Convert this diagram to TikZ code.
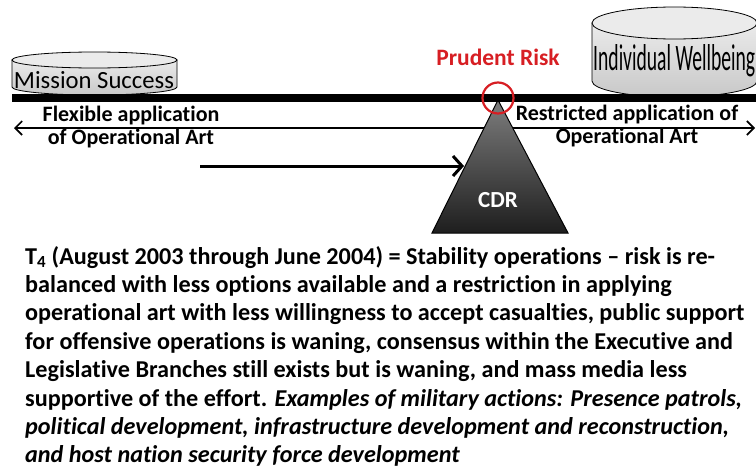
\documentclass[tikz,border=0pt]{standalone}
\usepackage{fontspec}
\setmainfont{Carlito}[Ligatures=NoCommon]
\usetikzlibrary{arrows.meta}
\definecolor{riskred}{RGB}{215,30,35}
\definecolor{cylbody}{RGB}{200,200,200}
\definecolor{cyltop}{RGB}{235,235,235}
\tikzset{
  lbl/.style={font=\bfseries\fontsize{22}{24}\selectfont, inner sep=0pt},
  bodyline/.style={anchor=base west, inner sep=0pt, font=\bfseries\fontsize{24.2}{28}\selectfont},
  cylfill/.style={draw=black, line width=0.8pt, top color=cyltop, bottom color=cylbody},
}
\begin{document}
\begin{tikzpicture}[x=1pt,y=-1pt]
\useasboundingbox (0,0) rectangle (756,471);
% double arrow
\draw[line width=1.6pt, {Straight Barb[length=7pt,width=14pt]}-{Straight Barb[length=7pt,width=14pt]}] (14,128) coordinate (dl) -- (755,128) coordinate (dr);
% Mission Success cylinder
\path[cylfill] (12,60) -- (12,87) arc[start angle=180,end angle=360,x radius=82.5pt,y radius=8pt] -- (177,60) -- cycle;
\draw[line width=0.8pt, fill=cyltop] (94.5,60) ellipse[x radius=82.5pt, y radius=8pt];
\node[inner sep=0pt] (ms) at (94,80) {\resizebox{160pt}{17pt}{Mission Success}};
% Individual Wellbeing cylinder
\path[cylfill] (592,23) -- (592,81) arc[start angle=180,end angle=360,x radius=82.5pt,y radius=16pt] -- (757,23) -- cycle;
\draw[line width=0.8pt, fill=cyltop] (674.5,23) ellipse[x radius=82.5pt, y radius=16pt];
\node[inner sep=0pt, anchor=west] (iw) at (593,61) {\resizebox{162pt}{26pt}{Individual Wellbeing}};
% triangle
\path[draw=black, line width=1pt, top color={rgb,255:red,125;green,125;blue,125}, bottom color={rgb,255:red,30;green,30;blue,30}]
  (498,100) coordinate (apex) -- (568,233) coordinate (br) -- (432,233) coordinate (bl) -- cycle;
\node[font=\bfseries\fontsize{23}{26}\selectfont, text=white, inner sep=0pt] (cdr) at (498,200) {CDR};
% beam
\draw[line width=8pt] (12,98) coordinate (beamL) -- (756,98) coordinate (beamR);
% red circle
\node[draw=riskred, line width=2.2pt, circle, minimum size=31pt, inner sep=0pt] (pivot) at (498,98) {};
\node[font=\bfseries\fontsize{23.5}{26}\selectfont, inner sep=0pt, text=riskred] (pr) at (498,57) {Prudent Risk};
% push arrow
\coordinate (push) at (200,166);
\draw[line width=3pt, -{Straight Barb[length=9pt,width=20pt,line width=3pt]}] (push) -- (464,166);
% labels
\node[lbl] (flex1) at (131,116) {Flexible application};
\node[lbl] (flex2) at (131,139) {of Operational Art};
\node[lbl] (res1) at (627,115) {Restricted application of};
\node[lbl] (res2) at (627,138) {Operational Art};
% body text
\node[bodyline] (l1) at (25,264) {T\textsubscript{4} (August 2003 through June 2004) = Stability operations – risk is re-};
\node[bodyline] (l2) at (25,292.4) {balanced with less options available and a restriction in applying};
\node[bodyline] (l3) at (25,320.8) {operational art with less willingness to accept casualties, public support};
\node[bodyline] (l4) at (25,349.2) {for offensive operations is waning, consensus within the Executive and};
\node[bodyline] (l5) at (25,377.6) {Legislative Branches still exists but is waning, and mass media less};
\node[bodyline] (l6) at (25,406) {supportive of the effort. \textit{Examples of military actions: Presence patrols,}};
\node[bodyline] (l7) at (25,434.4) {\textit{political development, infrastructure development and reconstruction,}};
\node[bodyline] (l8) at (25,462.8) {\textit{and host nation security force development}};
\end{tikzpicture}
\end{document}
